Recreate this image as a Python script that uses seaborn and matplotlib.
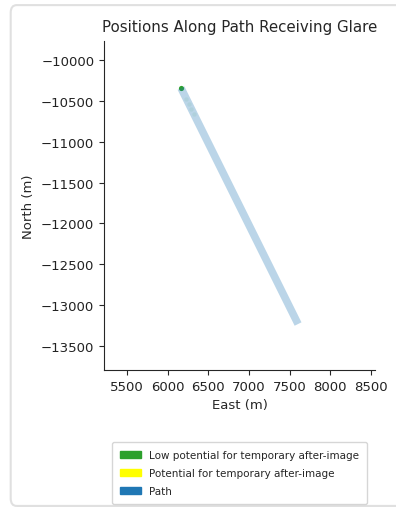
import matplotlib
matplotlib.use("Agg")
import matplotlib.pyplot as plt
import seaborn as sns
import pandas as pd
from matplotlib.patches import Patch, FancyBboxPatch

# path end points (east, north) in metres
path_east = [6164, 7603]
path_north = [-10343, -13231]

# positions receiving glare
low_east = [6164]
low_north = [-10343]
faint_east = [6230, 6260, 6290, 6320]
faint_north = [-10480, -10540, -10600, -10660]

xticks = [5500, 6000, 6500, 7000, 7500, 8000, 8500]
yticks = [-10000, -10500, -11000, -11500, -12000, -12500, -13000, -13500]

legend_labels = [
    "Low potential for temporary after-image",
    "Potential for temporary after-image",
    "Path",
]
legend_colors = ["tab:green", "yellow", "tab:blue"]


def main() -> None:
    sns.set_style("ticks")
    fig = plt.figure(figsize=(3.96, 5.10), dpi=100)
    ax = fig.add_axes([0.2626, 0.2725, 0.6844, 0.6451])

    path_df = pd.DataFrame({"east": path_east, "north": path_north})
    sns.lineplot(data=path_df, x="east", y="north", ax=ax, color="tab:blue",
                 alpha=0.3, linewidth=5.5, sort=False, solid_capstyle="butt")
    sns.scatterplot(x=faint_east, y=faint_north, ax=ax, color="tab:green",
                    alpha=0.08, s=10, linewidth=0)
    sns.scatterplot(x=low_east, y=low_north, ax=ax, color="tab:green",
                    s=14, linewidth=0)

    ax.set_xlim(5217, 8549)
    ax.set_ylim(-13794, -9767)
    ax.set_xticks(xticks)
    ax.set_yticks(yticks)
    ax.tick_params(labelsize=9.5, labelcolor="#222222")
    ax.set_xlabel("East (m)", fontsize=9.5)
    ax.set_ylabel("North (m)", fontsize=9.5)
    ax.set_title("Positions Along Path Receiving Glare", fontsize=10.8, pad=7)
    sns.despine(ax=ax)

    handles = [Patch(color=c, label=l) for c, l in zip(legend_colors, legend_labels)]
    fig.legend(handles=handles, loc="center", bbox_to_anchor=(0.605, 0.07),
               fontsize=7.5, frameon=True, labelspacing=0.75, borderpad=0.8)

    # rounded frame around the figure
    border = FancyBboxPatch((0.027, 0.006), 1.1, 0.982,
                            boxstyle="round,pad=0,rounding_size=0.015",
                            transform=fig.transFigure, fill=False,
                            edgecolor="#e0e0e0", linewidth=1.5)
    fig.patches.append(border)

    fig.savefig("out.png", dpi=100)


if __name__ == "__main__":
    main()
